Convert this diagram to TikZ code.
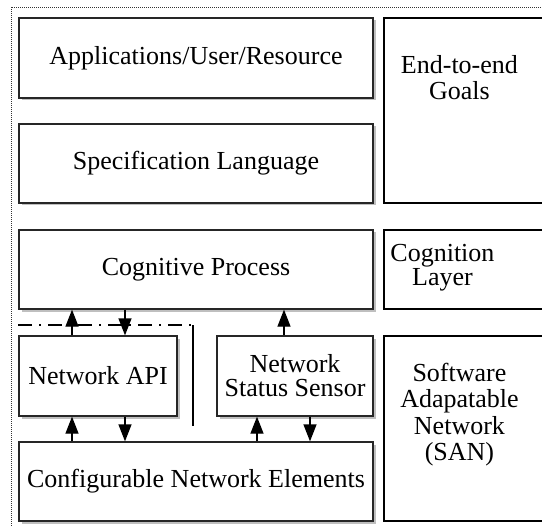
\documentclass[tikz,border=0pt]{standalone}
\usepackage{fontspec}
\setmainfont{Liberation Serif}
\usetikzlibrary{arrows.meta,shadows}

\tikzset{
    layerbox/.style={draw=black!85, line width=1.3pt, fill=white, inner sep=0pt, align=center,
        drop shadow={shadow xshift=2.5pt, shadow yshift=-2.5pt, fill=black!25, opacity=1},
        font=\fontsize{26}{24}\selectfont},
    sidebox/.style={draw=black, line width=1.1pt, inner sep=0pt, minimum width=176pt},
    sidetext/.style={align=center, inner sep=0pt, font=\fontsize{26}{26.5}\selectfont},
    arr/.style={-{Triangle[length=17pt, width=13pt]}, line width=1.3pt},
}

\begin{document}
\begin{tikzpicture}[x=1pt, y=-1pt]
    \useasboundingbox (0,0) rectangle (542,527);
    \clip (0,0) rectangle (542,527);
    \draw[line width=0.9pt, dash pattern=on 1pt off 1pt, black!80] (11,7) rectangle (560,545);

    % stack on the left
    \node[layerbox, minimum width=354pt, minimum height=80pt] (app) at (196,58) {Applications/User/Resource};
    \node[layerbox, minimum width=354pt, minimum height=79pt] (spec) at (196,163.5) {Specification Language};
    \node[layerbox, minimum width=354pt, minimum height=79pt] (cog) at (196,269.5) {Cognitive Process};
    \node[layerbox, minimum width=158pt, minimum height=80pt] (api) at (98,376) {Network API};
    \node[layerbox, minimum width=156pt, minimum height=80pt] (sensor) at (295,376) {Network\\Status Sensor};
    \node[layerbox, minimum width=354pt, minimum height=79pt] (conf) at (196,481.5) {Configurable Network Elements};

    % boxes on the right
    \node[sidebox, minimum height=185pt] (goals) at (472,110.5) {};
    \node[sidebox, minimum height=79pt] (cogl) at (472,269.5) {};
    \node[sidebox, minimum height=185pt] (san) at (472,428.5) {};
    \node[sidetext] (goalsT) at ([xshift=76pt, yshift=-60pt]goals.north west) {End-to-end\\Goals};
    \node[sidetext, font=\fontsize{26}{23.5}\selectfont] (coglT) at ([xshift=59pt, yshift=-38pt]cogl.north west) {Cognition\\Layer};
    \node[sidetext] (sanT) at ([xshift=76pt, yshift=-79pt]san.north west) {Software\\Adapatable\\Network\\(SAN)};

    % separator
    \coordinate (bend) at (193,325);
    \coordinate (sepend) at (193,426);
    \draw[line width=1.3pt, dash pattern=on 14pt off 7pt on 2pt off 7pt] (bend -| api.west) -- (bend);
    \draw[line width=1.3pt] (bend) -- (sepend);

    % arrows
    \draw[arr] ([xshift=-26pt]api.north) -- ([xshift=-26pt]api.north |- cog.south);
    \draw[arr] ([xshift=27pt]api.north |- cog.south) -- ([xshift=27pt]api.north);
    \draw[arr] ([xshift=-26pt]api.south |- conf.north) -- ([xshift=-26pt]api.south);
    \draw[arr] ([xshift=27pt]api.south) -- ([xshift=27pt]api.south |- conf.north);
    \draw[arr] ([xshift=-11pt]sensor.north) -- ([xshift=-11pt]sensor.north |- cog.south);
    \draw[arr] ([xshift=-38pt]sensor.south |- conf.north) -- ([xshift=-38pt]sensor.south);
    \draw[arr] ([xshift=15pt]sensor.south) -- ([xshift=15pt]sensor.south |- conf.north);
\end{tikzpicture}
\end{document}
